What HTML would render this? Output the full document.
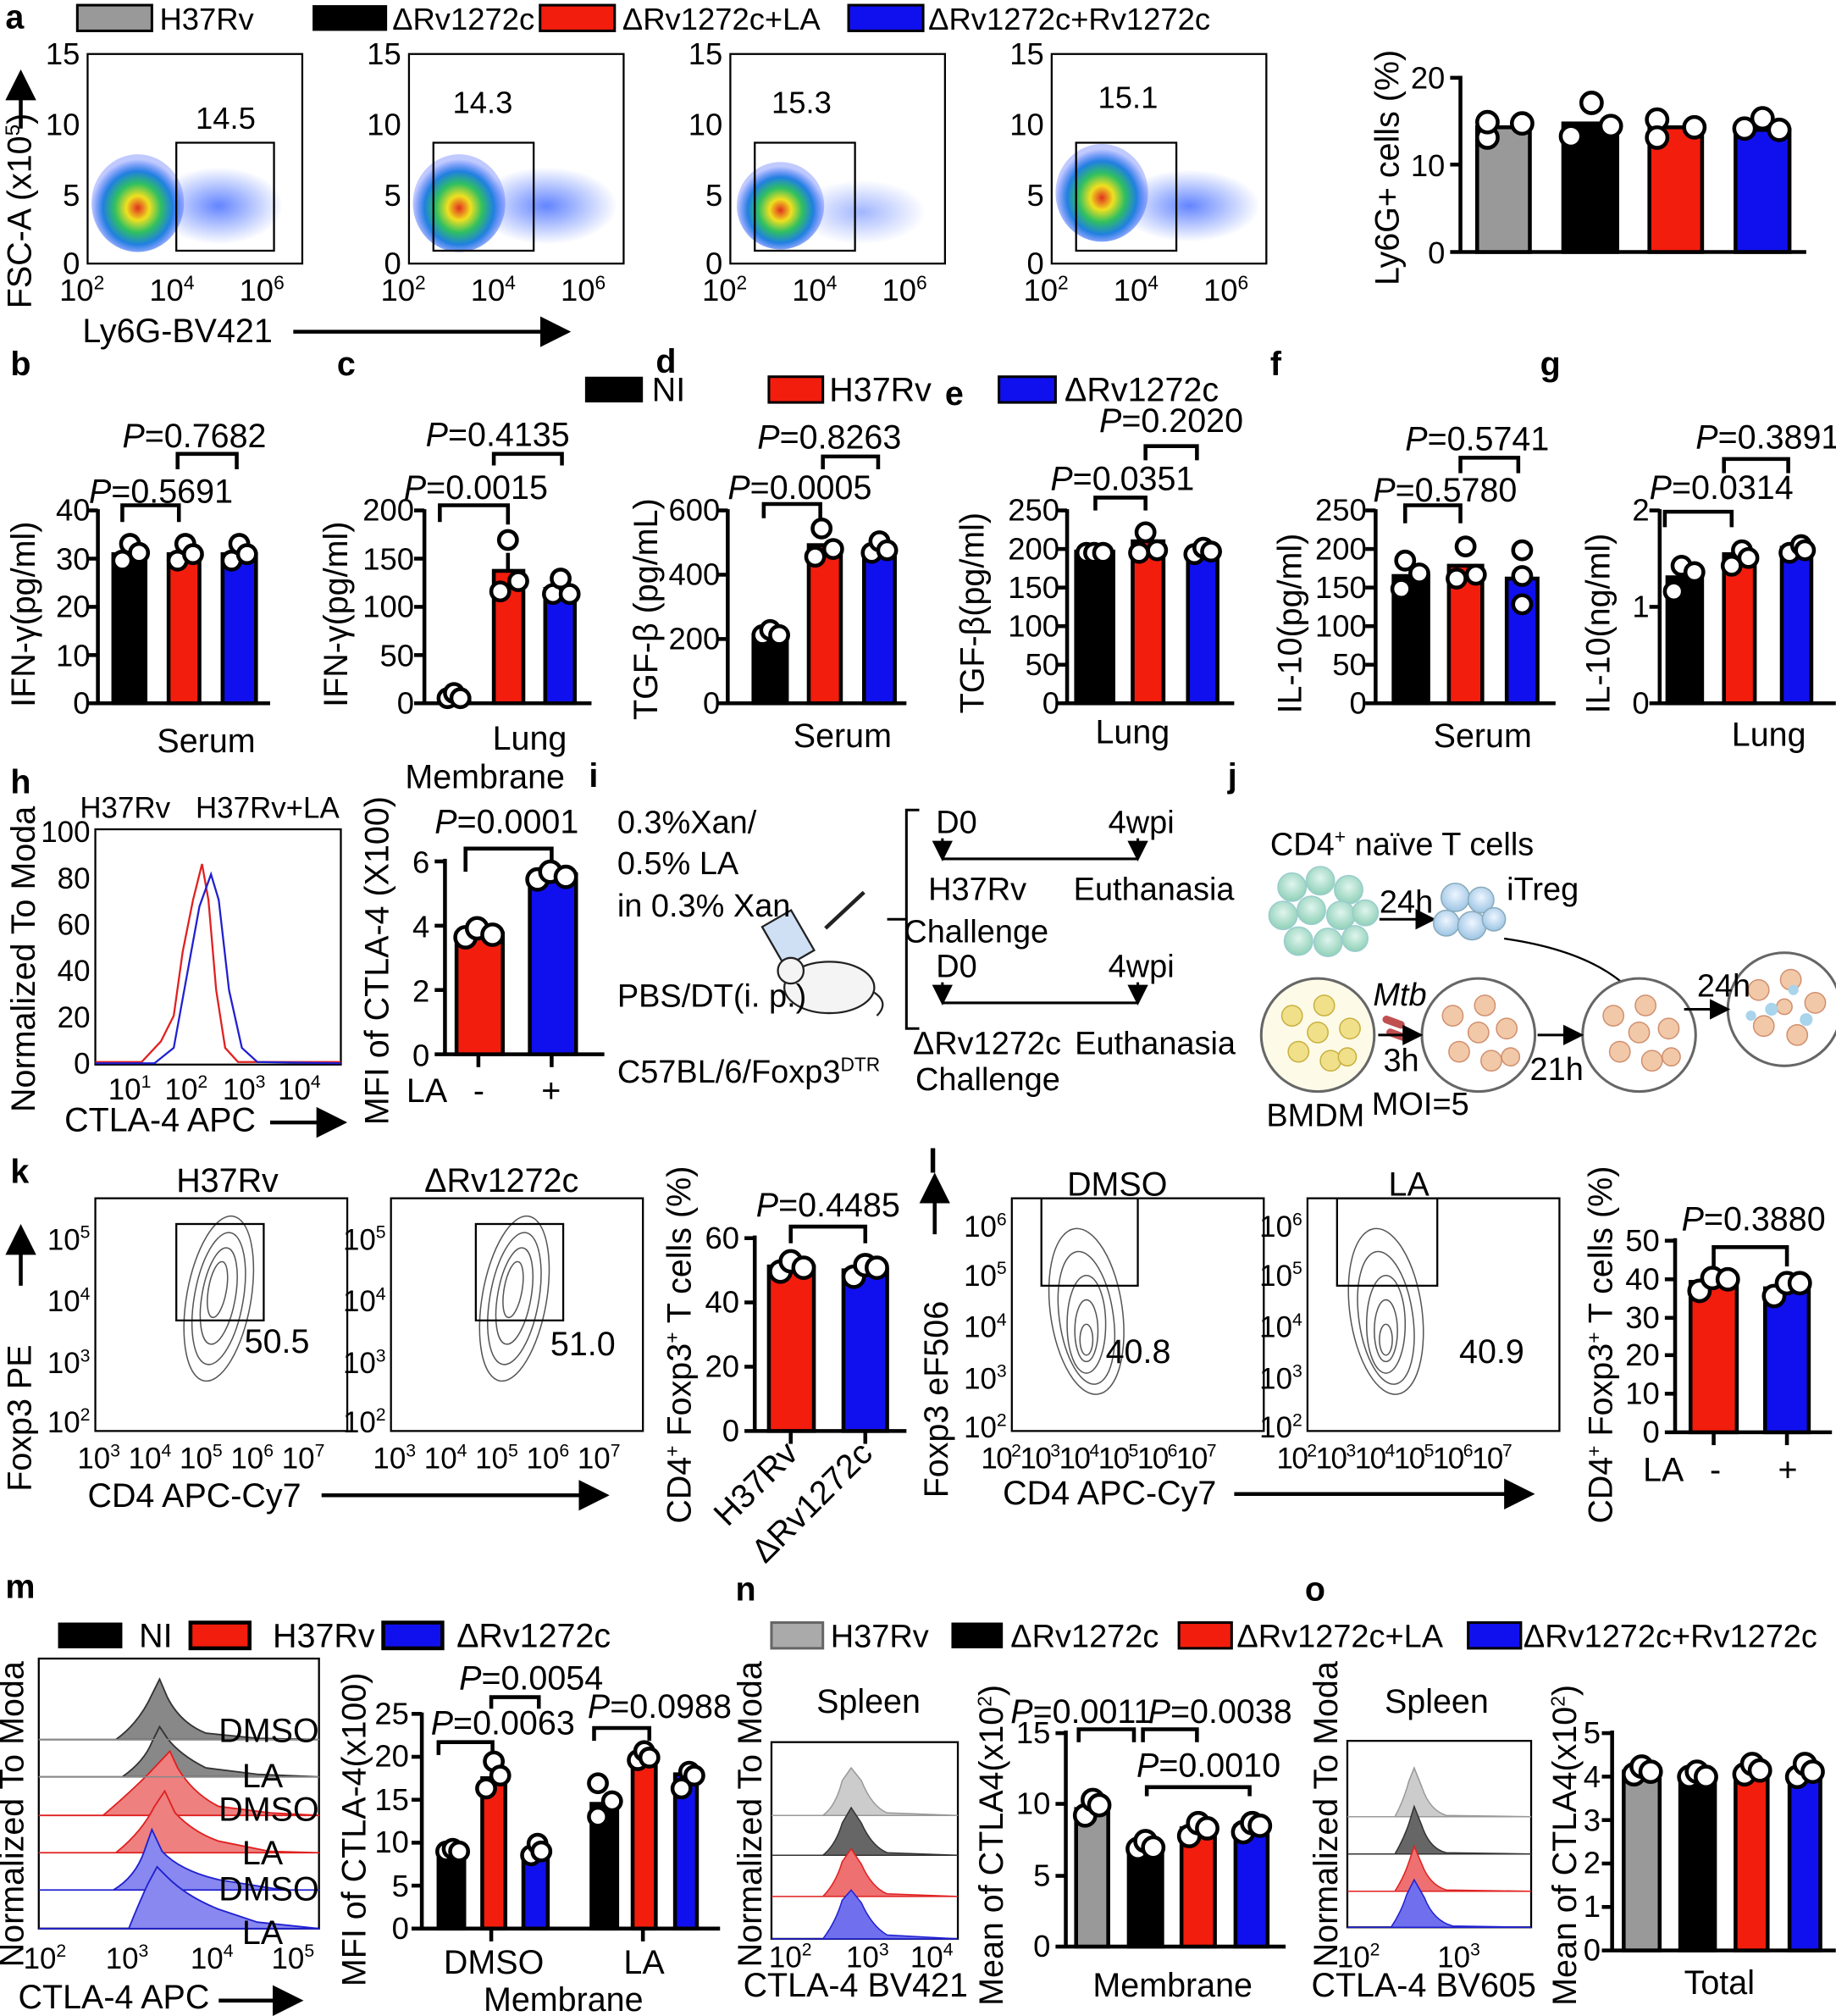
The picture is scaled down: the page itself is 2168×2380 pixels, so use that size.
<!DOCTYPE html>
<html><head><meta charset="utf-8"><style>
html,body{margin:0;padding:0;background:#fff}
svg{display:block}
text{font-family:"Liberation Sans",Arial,sans-serif;fill:#000}
</style></head><body>
<svg width="2168" height="2380" viewBox="0 0 1428 1568" xmlns="http://www.w3.org/2000/svg">
<defs>
<radialGradient id="dens" cx="50%" cy="55%" r="50%">
<stop offset="0" stop-color="#e03020"/><stop offset="0.25" stop-color="#f0e020"/><stop offset="0.5" stop-color="#30c060"/><stop offset="0.75" stop-color="#2080e0"/><stop offset="1" stop-color="#3050ff" stop-opacity="0.3"/>
</radialGradient>
<radialGradient id="haze" cx="50%" cy="50%" r="50%"><stop offset="0" stop-color="#2050ff" stop-opacity="0.7"/><stop offset="1" stop-color="#2050ff" stop-opacity="0"/></radialGradient>
<radialGradient id="grn" cx="50%" cy="40%" r="60%"><stop offset="0" stop-color="#e0f5ee"/><stop offset="1" stop-color="#8fd0b8"/></radialGradient>
<radialGradient id="blu" cx="50%" cy="40%" r="60%"><stop offset="0" stop-color="#eef6ff"/><stop offset="1" stop-color="#9cc4e4"/></radialGradient>
<marker id="ar" markerWidth="8" markerHeight="8" refX="6" refY="4" orient="auto"><path d="M0,0 L8,4 L0,8 z" fill="#000"/></marker>
</defs>
<g font-size="26">
<!-- ===== a ===== -->
<text x="4" y="22" font-weight="bold" font-size="26">a</text>
<g font-size="24">
<rect x="60" y="4" width="58" height="20" fill="#999" stroke="#000" stroke-width="2"/><text x="124" y="23">H37Rv</text>
<rect x="243" y="4" width="58" height="20" fill="#000"/><text x="305" y="23">ΔRv1272c</text>
<rect x="420" y="4" width="58" height="20" fill="#f21d0d" stroke="#000" stroke-width="2"/><text x="484" y="23">ΔRv1272c+LA</text>
<rect x="660" y="4" width="58" height="20" fill="#1010ee" stroke="#000" stroke-width="2"/><text x="722" y="23">ΔRv1272c+Rv1272c</text>
</g>

<g font-size="24">
<g>
<rect x="68" y="42" width="167" height="163" fill="none" stroke="#000" stroke-width="1.5"/>
<ellipse cx="170" cy="160" rx="50" ry="30" fill="url(#haze)"/>
<ellipse cx="107" cy="158" rx="36" ry="38" fill="url(#dens)"/>
<rect x="137" y="111" width="76" height="84" fill="none" stroke="#000" stroke-width="1.5"/>
<text x="152" y="100">14.5</text>
<text x="62" y="50" text-anchor="end">15</text><text x="62" y="105" text-anchor="end">10</text><text x="62" y="160" text-anchor="end">5</text><text x="62" y="213" text-anchor="end">0</text>
<text x="46" y="234">10<tspan font-size="15" dy="-9">2</tspan></text><text x="116" y="234">10<tspan font-size="15" dy="-9">4</tspan></text><text x="186" y="234">10<tspan font-size="15" dy="-9">6</tspan></text>
</g>
<g transform="translate(250,0)">
<rect x="68" y="42" width="167" height="163" fill="none" stroke="#000" stroke-width="1.5"/>
<ellipse cx="175" cy="160" rx="55" ry="30" fill="url(#haze)"/>
<ellipse cx="107" cy="158" rx="36" ry="38" fill="url(#dens)"/>
<rect x="87" y="111" width="78" height="84" fill="none" stroke="#000" stroke-width="1.5"/>
<text x="102" y="88">14.3</text>
<text x="62" y="50" text-anchor="end">15</text><text x="62" y="105" text-anchor="end">10</text><text x="62" y="160" text-anchor="end">5</text><text x="62" y="213" text-anchor="end">0</text>
<text x="46" y="234">10<tspan font-size="15" dy="-9">2</tspan></text><text x="116" y="234">10<tspan font-size="15" dy="-9">4</tspan></text><text x="186" y="234">10<tspan font-size="15" dy="-9">6</tspan></text>
</g>
<g transform="translate(500,0)">
<rect x="68" y="42" width="167" height="163" fill="none" stroke="#000" stroke-width="1.5"/>
<ellipse cx="170" cy="165" rx="50" ry="25" fill="url(#haze)" opacity="0.6"/>
<ellipse cx="107" cy="160" rx="34" ry="34" fill="url(#dens)"/>
<rect x="87" y="111" width="78" height="84" fill="none" stroke="#000" stroke-width="1.5"/>
<text x="100" y="88">15.3</text>
<text x="62" y="50" text-anchor="end">15</text><text x="62" y="105" text-anchor="end">10</text><text x="62" y="160" text-anchor="end">5</text><text x="62" y="213" text-anchor="end">0</text>
<text x="46" y="234">10<tspan font-size="15" dy="-9">2</tspan></text><text x="116" y="234">10<tspan font-size="15" dy="-9">4</tspan></text><text x="186" y="234">10<tspan font-size="15" dy="-9">6</tspan></text>
</g>
<g transform="translate(750,0)">
<rect x="68" y="42" width="167" height="163" fill="none" stroke="#000" stroke-width="1.5"/>
<ellipse cx="175" cy="160" rx="55" ry="28" fill="url(#haze)"/>
<ellipse cx="107" cy="150" rx="36" ry="38" fill="url(#dens)"/>
<rect x="87" y="111" width="78" height="84" fill="none" stroke="#000" stroke-width="1.5"/>
<text x="104" y="84">15.1</text>
<text x="62" y="50" text-anchor="end">15</text><text x="62" y="105" text-anchor="end">10</text><text x="62" y="160" text-anchor="end">5</text><text x="62" y="213" text-anchor="end">0</text>
<text x="46" y="234">10<tspan font-size="15" dy="-9">2</tspan></text><text x="116" y="234">10<tspan font-size="15" dy="-9">4</tspan></text><text x="186" y="234">10<tspan font-size="15" dy="-9">6</tspan></text>
</g>
</g>
<text transform="translate(24,240) rotate(-90)">FSC-A (x10<tspan font-size="16" dy="-9">5</tspan><tspan dy="9">)</tspan></text>
<line x1="16" y1="100" x2="16" y2="60" stroke="#000" stroke-width="3" marker-end="url(#ar)"/>
<text x="64" y="266">Ly6G-BV421</text>
<line x1="228" y1="258" x2="438" y2="258" stroke="#000" stroke-width="3" marker-end="url(#ar)"/>

<!-- a bars -->
<g stroke="#000" stroke-width="3">
<line x1="1136" y1="59" x2="1136" y2="196"/><line x1="1128" y1="196" x2="1405" y2="196"/>
<line x1="1128" y1="60.5" x2="1136" y2="60.5"/><line x1="1128" y1="128" x2="1136" y2="128"/>
<rect x="1149" y="99" width="41" height="97" fill="#999"/>
<rect x="1216" y="96" width="42" height="100" fill="#000"/>
<rect x="1283" y="99" width="41" height="97" fill="#f21d0d"/>
<rect x="1350" y="101" width="42" height="95" fill="#1010ee"/>
</g>
<g stroke="#000" stroke-width="3" fill="#fff">
<circle cx="1157" cy="107" r="8"/><circle cx="1157" cy="95" r="8"/><circle cx="1184" cy="96" r="8"/>
<circle cx="1222" cy="106" r="8"/><circle cx="1238" cy="80" r="8"/><circle cx="1253" cy="98" r="8"/>
<circle cx="1289" cy="93" r="8"/><circle cx="1289" cy="107" r="8"/><circle cx="1318" cy="99" r="8"/>
<circle cx="1357" cy="100" r="8"/><circle cx="1371" cy="92" r="8"/><circle cx="1384" cy="101" r="8"/>
</g>
<g font-size="24"><text x="1124" y="69" text-anchor="end">20</text><text x="1124" y="137" text-anchor="end">10</text><text x="1124" y="205" text-anchor="end">0</text></g>
<text transform="translate(1088,222) rotate(-90)">Ly6G+ cells (%)</text>

<!-- ===== row b-g ===== -->
<g font-weight="bold" font-size="26">
<text x="8" y="292">b</text><text x="262" y="292">c</text><text x="510" y="290">d</text><text x="735" y="315">e</text><text x="988" y="292">f</text><text x="1198" y="292">g</text>
</g>
<rect x="455" y="293" width="45" height="20" fill="#000"/><text x="507" y="312">NI</text>
<rect x="598" y="293" width="42" height="20" fill="#f21d0d" stroke="#000" stroke-width="2"/><text x="645" y="312">H37Rv</text>
<rect x="777" y="293" width="44" height="20" fill="#1010ee" stroke="#000" stroke-width="2"/><text x="828" y="312">ΔRv1272c</text>

<g stroke="#000" stroke-width="3">
<line x1="76" y1="396" x2="76" y2="547"/><line x1="68" y1="547" x2="210" y2="547"/>
<line x1="68" y1="397" x2="76" y2="397"/><line x1="68" y1="434.5" x2="76" y2="434.5"/><line x1="68" y1="472" x2="76" y2="472"/><line x1="68" y1="509.5" x2="76" y2="509.5"/>
<rect x="88" y="431" width="25" height="116" fill="#000"/><rect x="131" y="431" width="24" height="116" fill="#f21d0d"/><rect x="173" y="431" width="26" height="116" fill="#1010ee"/>
<path d="M95 406 V393 H139 V406" fill="none"/><path d="M138 365 V353 H184 V365" fill="none"/>
<line x1="330" y1="396" x2="330" y2="547"/><line x1="322" y1="547" x2="460" y2="547"/>
<line x1="322" y1="397" x2="330" y2="397"/><line x1="322" y1="434.5" x2="330" y2="434.5"/><line x1="322" y1="472" x2="330" y2="472"/><line x1="322" y1="509.5" x2="330" y2="509.5"/>
<rect x="342" y="543" width="23" height="4" fill="#000"/><rect x="384" y="444" width="23" height="103" fill="#f21d0d"/><rect x="424" y="458" width="23" height="89" fill="#1010ee"/>
<path d="M342 406 V393 H395 V408" fill="none"/><path d="M384 362 V353 H437 V362" fill="none"/>
<line x1="395" y1="430" x2="395" y2="444"/>
<line x1="566" y1="396" x2="566" y2="547"/><line x1="558" y1="547" x2="705" y2="547"/>
<line x1="558" y1="397" x2="566" y2="397"/><line x1="558" y1="447" x2="566" y2="447"/><line x1="558" y1="497" x2="566" y2="497"/>
<rect x="586" y="494" width="26" height="53" fill="#000"/><rect x="629" y="424" width="25" height="123" fill="#f21d0d"/><rect x="672" y="427" width="24" height="120" fill="#1010ee"/>
<path d="M594 403 V392 H638 V403" fill="none"/><path d="M640 365 V355 H683 V365" fill="none"/>
<line x1="830" y1="396" x2="830" y2="547"/><line x1="822" y1="547" x2="960" y2="547"/>
<line x1="822" y1="397" x2="830" y2="397"/><line x1="822" y1="427" x2="830" y2="427"/><line x1="822" y1="457" x2="830" y2="457"/><line x1="822" y1="487" x2="830" y2="487"/><line x1="822" y1="517" x2="830" y2="517"/>
<rect x="837" y="429" width="29" height="118" fill="#000"/><rect x="881" y="421" width="24" height="126" fill="#f21d0d"/><rect x="924" y="429" width="23" height="118" fill="#1010ee"/>
<path d="M852 397 V387 H891 V397" fill="none"/><path d="M891 358 V347 H931 V358" fill="none"/>
<line x1="1070" y1="396" x2="1070" y2="547"/><line x1="1062" y1="547" x2="1210" y2="547"/>
<line x1="1062" y1="397" x2="1070" y2="397"/><line x1="1062" y1="427" x2="1070" y2="427"/><line x1="1062" y1="457" x2="1070" y2="457"/><line x1="1062" y1="487" x2="1070" y2="487"/><line x1="1062" y1="517" x2="1070" y2="517"/>
<rect x="1084" y="448" width="27" height="99" fill="#000"/><rect x="1127" y="440" width="26" height="107" fill="#f21d0d"/><rect x="1172" y="450" width="24" height="97" fill="#1010ee"/>
<path d="M1093 407 V393 H1136 V407" fill="none"/><path d="M1136 368 V356 H1181 V368" fill="none"/>
<line x1="1291" y1="396" x2="1291" y2="547"/><line x1="1283" y1="547" x2="1428" y2="547"/>
<line x1="1283" y1="397" x2="1291" y2="397"/><line x1="1283" y1="472" x2="1291" y2="472"/>
<rect x="1297" y="449" width="27" height="98" fill="#000"/><rect x="1341" y="431" width="24" height="116" fill="#f21d0d"/><rect x="1386" y="426" width="23" height="121" fill="#1010ee"/>
<path d="M1295 410 V398 H1347 V410" fill="none"/><path d="M1341 368 V357 H1391 V368" fill="none"/>
</g>
<g stroke="#000" stroke-width="3" fill="#fff">
<circle cx="95" cy="436" r="7"/><circle cx="101" cy="423" r="7"/><circle cx="108" cy="430" r="7"/>
<circle cx="138" cy="436" r="7"/><circle cx="144" cy="423" r="7"/><circle cx="150" cy="431" r="7"/>
<circle cx="180" cy="436" r="7"/><circle cx="186" cy="423" r="7"/><circle cx="192" cy="431" r="7"/>
<circle cx="348" cy="543" r="7"/><circle cx="353" cy="539" r="7"/><circle cx="358" cy="543" r="7"/>
<circle cx="389" cy="460" r="7"/><circle cx="395" cy="420" r="7"/><circle cx="403" cy="452" r="7"/>
<circle cx="430" cy="462" r="7"/><circle cx="436" cy="450" r="7"/><circle cx="443" cy="462" r="7"/>
<circle cx="593" cy="494" r="7"/><circle cx="599" cy="490" r="7"/><circle cx="606" cy="494" r="7"/>
<circle cx="634" cy="433" r="7"/><circle cx="639" cy="411" r="7"/><circle cx="648" cy="427" r="7"/>
<circle cx="678" cy="430" r="7"/><circle cx="684" cy="421" r="7"/><circle cx="690" cy="428" r="7"/>
<circle cx="845" cy="430" r="7"/><circle cx="851" cy="430" r="7"/><circle cx="858" cy="430" r="7"/>
<circle cx="886" cy="430" r="7"/><circle cx="891" cy="414" r="7"/><circle cx="900" cy="428" r="7"/>
<circle cx="929" cy="431" r="7"/><circle cx="936" cy="426" r="7"/><circle cx="942" cy="429" r="7"/>
<circle cx="1090" cy="458" r="7"/><circle cx="1093" cy="436" r="7"/><circle cx="1104" cy="446" r="7"/>
<circle cx="1133" cy="450" r="7"/><circle cx="1140" cy="425" r="7"/><circle cx="1148" cy="447" r="7"/>
<circle cx="1184" cy="470" r="7"/><circle cx="1184" cy="428" r="7"/><circle cx="1184" cy="448" r="7"/>
<circle cx="1302" cy="460" r="7"/><circle cx="1308" cy="440" r="7"/><circle cx="1318" cy="445" r="7"/>
<circle cx="1347" cy="440" r="7"/><circle cx="1355" cy="428" r="7"/><circle cx="1360" cy="434" r="7"/>
<circle cx="1392" cy="430" r="7"/><circle cx="1401" cy="424" r="7"/><circle cx="1404" cy="428" r="7"/>
</g>
<g font-size="24">
<text x="70" y="405" text-anchor="end">40</text><text x="70" y="443" text-anchor="end">30</text><text x="70" y="480" text-anchor="end">20</text><text x="70" y="518" text-anchor="end">10</text><text x="70" y="555" text-anchor="end">0</text>
<text x="322" y="405" text-anchor="end">200</text><text x="322" y="443" text-anchor="end">150</text><text x="322" y="480" text-anchor="end">100</text><text x="322" y="518" text-anchor="end">50</text><text x="322" y="555" text-anchor="end">0</text>
<text x="560" y="405" text-anchor="end">600</text><text x="560" y="455" text-anchor="end">400</text><text x="560" y="505" text-anchor="end">200</text><text x="560" y="555" text-anchor="end">0</text>
<text x="824" y="405" text-anchor="end">250</text><text x="824" y="435" text-anchor="end">200</text><text x="824" y="465" text-anchor="end">150</text><text x="824" y="495" text-anchor="end">100</text><text x="824" y="525" text-anchor="end">50</text><text x="824" y="555" text-anchor="end">0</text>
<text x="1063" y="405" text-anchor="end">250</text><text x="1063" y="435" text-anchor="end">200</text><text x="1063" y="465" text-anchor="end">150</text><text x="1063" y="495" text-anchor="end">100</text><text x="1063" y="525" text-anchor="end">50</text><text x="1063" y="555" text-anchor="end">0</text>
<text x="1283" y="405" text-anchor="end">2</text><text x="1283" y="480" text-anchor="end">1</text><text x="1283" y="555" text-anchor="end">0</text>
</g>
<text x="69" y="391"><tspan font-style="italic">P</tspan>=0.5691</text>
<text x="95" y="348"><tspan font-style="italic">P</tspan>=0.7682</text>
<text x="314" y="388"><tspan font-style="italic">P</tspan>=0.0015</text>
<text x="331" y="347"><tspan font-style="italic">P</tspan>=0.4135</text>
<text x="566" y="388"><tspan font-style="italic">P</tspan>=0.0005</text>
<text x="589" y="349"><tspan font-style="italic">P</tspan>=0.8263</text>
<text x="817" y="381"><tspan font-style="italic">P</tspan>=0.0351</text>
<text x="855" y="336"><tspan font-style="italic">P</tspan>=0.2020</text>
<text x="1068" y="390"><tspan font-style="italic">P</tspan>=0.5780</text>
<text x="1093" y="350"><tspan font-style="italic">P</tspan>=0.5741</text>
<text x="1283" y="388"><tspan font-style="italic">P</tspan>=0.0314</text>
<text x="1319" y="349"><tspan font-style="italic">P</tspan>=0.3891</text>
<text transform="translate(27,550) rotate(-90)">IFN-γ(pg/ml)</text>
<text transform="translate(270,550) rotate(-90)">IFN-γ(pg/ml)</text>
<text transform="translate(511,560) rotate(-90)">TGF-β (pg/mL)</text>
<text transform="translate(765,555) rotate(-90)">TGF-β(pg/ml)</text>
<text transform="translate(1012,555) rotate(-90)">IL-10(pg/ml)</text>
<text transform="translate(1252,555) rotate(-90)">IL-10(ng/ml)</text>
<text x="122" y="585">Serum</text>
<text x="383" y="583">Lung</text><text x="315" y="613">Membrane</text>
<text x="617" y="581">Serum</text>
<text x="852" y="578">Lung</text>
<text x="1115" y="581">Serum</text>
<text x="1347" y="580">Lung</text>

<!-- ===== h ===== -->
<text x="8" y="617" font-weight="bold" font-size="26">h</text>
<text x="62" y="636" font-size="23">H37Rv</text><text x="152" y="636" font-size="23">H37Rv+LA</text>
<rect x="74" y="645" width="191" height="183" fill="none" stroke="#000" stroke-width="1.5"/>
<path d="M74 826 L110 826 L125 810 L135 790 L142 740 L150 700 L157 672 L162 700 L168 770 L175 815 L185 826 L265 826" fill="none" stroke="#e02020" stroke-width="1.5"/>
<path d="M74 827 L120 827 L135 815 L145 760 L155 705 L164 680 L170 700 L178 770 L188 815 L200 826 L265 827" fill="none" stroke="#2020d0" stroke-width="1.5"/>
<g font-size="23">
<text x="70" y="655" text-anchor="end">100</text><text x="70" y="691" text-anchor="end">80</text><text x="70" y="727" text-anchor="end">60</text><text x="70" y="763" text-anchor="end">40</text><text x="70" y="799" text-anchor="end">20</text><text x="70" y="835" text-anchor="end">0</text>
<text x="84" y="855">10<tspan font-size="14" dy="-9">1</tspan></text><text x="128" y="855">10<tspan font-size="14" dy="-9">2</tspan></text><text x="173" y="855">10<tspan font-size="14" dy="-9">3</tspan></text><text x="216" y="855">10<tspan font-size="14" dy="-9">4</tspan></text>
</g>
<text x="50" y="880">CTLA-4 APC</text>
<line x1="210" y1="873" x2="264" y2="873" stroke="#000" stroke-width="3" marker-end="url(#ar)"/>
<text transform="translate(27,865) rotate(-90)">Normalized To Moda</text>
<g stroke="#000" stroke-width="3">
<line x1="346" y1="668" x2="346" y2="820"/><line x1="338" y1="820" x2="470" y2="820"/>
<line x1="338" y1="670" x2="346" y2="670"/><line x1="338" y1="720" x2="346" y2="720"/><line x1="338" y1="770" x2="346" y2="770"/>
<line x1="372" y1="820" x2="372" y2="830"/><line x1="429" y1="820" x2="429" y2="830"/>
<rect x="355" y="726" width="36" height="94" fill="#f21d0d"/><rect x="412" y="680" width="36" height="140" fill="#1010ee"/>
<path d="M362 678 V660 H429 V680" fill="none"/>
</g>
<g stroke="#000" stroke-width="3" fill="#fff"><circle cx="362" cy="729" r="8"/><circle cx="371" cy="722" r="8"/><circle cx="383" cy="727" r="8"/>
<circle cx="418" cy="684" r="8"/><circle cx="428" cy="678" r="8"/><circle cx="440" cy="682" r="8"/></g>
<g font-size="24"><text x="334" y="679" text-anchor="end">6</text><text x="334" y="729" text-anchor="end">4</text><text x="334" y="779" text-anchor="end">2</text><text x="334" y="829" text-anchor="end">0</text></g>
<text x="338" y="648"><tspan font-style="italic">P</tspan>=0.0001</text>
<text x="316" y="857">LA</text><text x="368" y="857">-</text><text x="421" y="857">+</text>
<text transform="translate(302,875) rotate(-90)">MFI of CTLA-4 (X100)</text>

<!-- ===== i ===== -->
<text x="458" y="612" font-weight="bold" font-size="26">i</text>
<g fill="none" stroke="#222" stroke-width="1.5">
<rect x="600" y="712" width="26" height="36" fill="#cfe0f5" transform="rotate(-30 613 730)"/>
<path d="M642 722 L672 694" stroke-width="3"/>
<ellipse cx="645" cy="768" rx="35" ry="20" fill="#f4f4f4"/>
<circle cx="615" cy="755" r="10" fill="#f4f4f4"/>
<path d="M680 772 Q692 780 682 790"/>
</g>
<g font-size="25">
<text x="480" y="648">0.3%Xan/</text><text x="480" y="680">0.5% LA</text><text x="480" y="713">in 0.3% Xan</text>
<text x="480" y="783">PBS/DT(i. p.)</text>
<text x="480" y="842">C57BL/6/Foxp3<tspan font-size="15" dy="-9">DTR</tspan></text>
</g>
<path d="M715 630 H705 V800 H715" fill="none" stroke="#000" stroke-width="2"/>
<line x1="690" y1="715" x2="705" y2="715" stroke="#000" stroke-width="2"/>
<line x1="733" y1="668" x2="885" y2="668" stroke="#000" stroke-width="2"/>
<line x1="733" y1="652" x2="733" y2="666" stroke="#000" stroke-width="2" marker-end="url(#ar)"/>
<line x1="885" y1="652" x2="885" y2="666" stroke="#000" stroke-width="2" marker-end="url(#ar)"/>
<line x1="733" y1="780" x2="885" y2="780" stroke="#000" stroke-width="2"/>
<line x1="733" y1="764" x2="733" y2="778" stroke="#000" stroke-width="2" marker-end="url(#ar)"/>
<line x1="885" y1="764" x2="885" y2="778" stroke="#000" stroke-width="2" marker-end="url(#ar)"/>
<g font-size="25">
<text x="728" y="648">D0</text><text x="862" y="648">4wpi</text>
<text x="722" y="700">H37Rv</text><text x="835" y="700">Euthanasia</text><text x="703" y="733">Challenge</text>
<text x="728" y="760">D0</text><text x="862" y="760">4wpi</text>
<text x="710" y="820">ΔRv1272c</text><text x="836" y="820">Euthanasia</text><text x="712" y="848">Challenge</text>
</g>

<!-- ===== j ===== -->
<text x="955" y="612" font-weight="bold" font-size="26">j</text>
<g fill="url(#grn)" stroke="#9cc" stroke-width="1">
<circle cx="1005" cy="690" r="11"/><circle cx="1027" cy="685" r="11"/><circle cx="1049" cy="692" r="11"/><circle cx="998" cy="712" r="11"/><circle cx="1020" cy="708" r="11"/><circle cx="1043" cy="712" r="11"/><circle cx="1062" cy="710" r="10"/><circle cx="1010" cy="732" r="11"/><circle cx="1033" cy="733" r="11"/><circle cx="1054" cy="730" r="10"/>
</g>
<line x1="1073" y1="715" x2="1113" y2="715" stroke="#000" stroke-width="2" marker-end="url(#ar)"/>
<g fill="url(#blu)" stroke="#8ab" stroke-width="1">
<circle cx="1132" cy="698" r="11"/><circle cx="1152" cy="700" r="10"/><circle cx="1125" cy="718" r="10"/><circle cx="1145" cy="720" r="11"/><circle cx="1162" cy="715" r="9"/>
</g>
<path d="M1170 730 Q1240 740 1270 772" fill="none" stroke="#000" stroke-width="1.5" marker-end="url(#ar)"/>
<g stroke="#666" stroke-width="2" fill="#fff">
<circle cx="1025" cy="805" r="44" fill="#fdfbe8"/><circle cx="1150" cy="805" r="44"/><circle cx="1275" cy="805" r="44"/><circle cx="1388" cy="785" r="44"/>
</g>
<g fill="#f0e08a" stroke="#c9b040" stroke-width="1">
<circle cx="1005" cy="790" r="8"/><circle cx="1030" cy="782" r="8"/><circle cx="1050" cy="800" r="8"/><circle cx="1010" cy="818" r="8"/><circle cx="1035" cy="825" r="8"/><circle cx="1025" cy="803" r="8"/><circle cx="1048" cy="822" r="7"/>
</g>
<g fill="#f2c9a8" stroke="#d09070" stroke-width="1">
<circle cx="1130" cy="790" r="8"/><circle cx="1155" cy="782" r="8"/><circle cx="1172" cy="800" r="8"/><circle cx="1135" cy="818" r="8"/><circle cx="1160" cy="825" r="8"/><circle cx="1150" cy="803" r="8"/><circle cx="1175" cy="822" r="7"/>
<circle cx="1255" cy="790" r="8"/><circle cx="1280" cy="782" r="8"/><circle cx="1298" cy="800" r="8"/><circle cx="1260" cy="818" r="8"/><circle cx="1285" cy="825" r="8"/><circle cx="1275" cy="803" r="8"/><circle cx="1300" cy="822" r="7"/>
<circle cx="1368" cy="770" r="8"/><circle cx="1393" cy="762" r="8"/><circle cx="1412" cy="780" r="8"/><circle cx="1372" cy="798" r="8"/><circle cx="1398" cy="805" r="8"/><circle cx="1388" cy="783" r="6"/>
</g>
<g fill="#a8d4ec"><circle cx="1378" cy="785" r="5"/><circle cx="1405" cy="793" r="5"/><circle cx="1395" cy="770" r="4"/><circle cx="1362" cy="790" r="4"/></g>
<rect x="1075" y="792" width="18" height="6" rx="3" fill="#c05050" transform="rotate(20 1084 795)"/>
<rect x="1078" y="802" width="18" height="6" rx="3" fill="#c05050" transform="rotate(20 1087 805)"/>
<line x1="1072" y1="805" x2="1103" y2="805" stroke="#000" stroke-width="2" marker-end="url(#ar)"/>
<line x1="1196" y1="805" x2="1228" y2="805" stroke="#000" stroke-width="2" marker-end="url(#ar)"/>
<line x1="1310" y1="785" x2="1342" y2="785" stroke="#000" stroke-width="2" marker-end="url(#ar)"/>
<g font-size="25">
<text x="988" y="665">CD4<tspan font-size="15" dy="-9">+</tspan><tspan dy="9"> naïve T cells</tspan></text>
<text x="1073" y="710">24h</text><text x="1172" y="700">iTreg</text>
<text x="1068" y="782" font-style="italic">Mtb</text><text x="1076" y="833">3h</text><text x="1067" y="867">MOI=5</text>
<text x="985" y="876">BMDM</text><text x="1190" y="840">21h</text><text x="1320" y="775">24h</text>
</g>

<!-- ===== k ===== -->
<text x="8" y="920" font-weight="bold" font-size="26">k</text>
<text x="137" y="927">H37Rv</text><text x="330" y="927">ΔRv1272c</text>
<g fill="none" stroke="#555" stroke-width="1">
<rect x="74" y="932" width="196" height="181" stroke="#000" stroke-width="1.5"/>
<ellipse cx="170" cy="1010" rx="25" ry="65" transform="rotate(10 170 1010)"/><ellipse cx="170" cy="1010" rx="19" ry="52" transform="rotate(10 170 1010)"/><ellipse cx="170" cy="1008" rx="13" ry="38" transform="rotate(10 170 1008)"/><ellipse cx="169" cy="1003" rx="7" ry="22" transform="rotate(10 169 1003)"/>
<rect x="137" y="952" width="68" height="75" stroke="#000" stroke-width="1.5"/>
<rect x="304" y="932" width="196" height="181" stroke="#000" stroke-width="1.5"/>
<ellipse cx="400" cy="1010" rx="25" ry="65" transform="rotate(10 400 1010)"/><ellipse cx="400" cy="1010" rx="19" ry="52" transform="rotate(10 400 1010)"/><ellipse cx="400" cy="1008" rx="13" ry="38" transform="rotate(10 400 1008)"/><ellipse cx="399" cy="1003" rx="7" ry="22" transform="rotate(10 399 1003)"/>
<rect x="370" y="952" width="68" height="75" stroke="#000" stroke-width="1.5"/>
</g>
<text x="190" y="1052">50.5</text><text x="428" y="1054">51.0</text>
<g font-size="23">
<text x="70" y="972" text-anchor="end">10<tspan font-size="14" dy="-9">5</tspan></text><text x="70" y="1020" text-anchor="end">10<tspan font-size="14" dy="-9">4</tspan></text><text x="70" y="1068" text-anchor="end">10<tspan font-size="14" dy="-9">3</tspan></text><text x="70" y="1114" text-anchor="end">10<tspan font-size="14" dy="-9">2</tspan></text>
<text x="300" y="972" text-anchor="end">10<tspan font-size="14" dy="-9">5</tspan></text><text x="300" y="1020" text-anchor="end">10<tspan font-size="14" dy="-9">4</tspan></text><text x="300" y="1068" text-anchor="end">10<tspan font-size="14" dy="-9">3</tspan></text><text x="300" y="1114" text-anchor="end">10<tspan font-size="14" dy="-9">2</tspan></text>
<text x="60" y="1142">10<tspan font-size="14" dy="-9">3</tspan><tspan dy="9"> 10</tspan><tspan font-size="14" dy="-9">4</tspan><tspan dy="9"> 10</tspan><tspan font-size="14" dy="-9">5</tspan><tspan dy="9"> 10</tspan><tspan font-size="14" dy="-9">6</tspan><tspan dy="9"> 10</tspan><tspan font-size="14" dy="-9">7</tspan></text>
<text x="290" y="1142">10<tspan font-size="14" dy="-9">3</tspan><tspan dy="9"> 10</tspan><tspan font-size="14" dy="-9">4</tspan><tspan dy="9"> 10</tspan><tspan font-size="14" dy="-9">5</tspan><tspan dy="9"> 10</tspan><tspan font-size="14" dy="-9">6</tspan><tspan dy="9"> 10</tspan><tspan font-size="14" dy="-9">7</tspan></text>
</g>
<text transform="translate(24,1160) rotate(-90)">Foxp3 PE</text>
<line x1="16" y1="1000" x2="16" y2="958" stroke="#000" stroke-width="3" marker-end="url(#ar)"/>
<text x="68" y="1172">CD4 APC-Cy7</text>
<line x1="250" y1="1163" x2="468" y2="1163" stroke="#000" stroke-width="3" marker-end="url(#ar)"/>
<g stroke="#000" stroke-width="3">
<line x1="587" y1="961" x2="587" y2="1113"/><line x1="579" y1="1113" x2="705" y2="1113"/>
<line x1="579" y1="963" x2="587" y2="963"/><line x1="579" y1="1013" x2="587" y2="1013"/><line x1="579" y1="1063" x2="587" y2="1063"/>
<line x1="615" y1="1113" x2="615" y2="1123"/><line x1="673" y1="1113" x2="673" y2="1123"/>
<rect x="598" y="985" width="35" height="128" fill="#f21d0d"/><rect x="656" y="988" width="34" height="125" fill="#1010ee"/>
<path d="M615 967 V954 H673 V967" fill="none"/>
</g>
<g stroke="#000" stroke-width="3" fill="#fff"><circle cx="607" cy="989" r="8"/><circle cx="615" cy="981" r="8"/><circle cx="625" cy="986" r="8"/><circle cx="664" cy="993" r="8"/><circle cx="673" cy="984" r="8"/><circle cx="682" cy="986" r="8"/></g>
<g font-size="24"><text x="575" y="971" text-anchor="end">60</text><text x="575" y="1021" text-anchor="end">40</text><text x="575" y="1071" text-anchor="end">20</text><text x="575" y="1121" text-anchor="end">0</text></g>
<text x="588" y="946"><tspan font-style="italic">P</tspan>=0.4485</text>
<text transform="translate(622,1132) rotate(-45)" text-anchor="end">H37Rv</text>
<text transform="translate(680,1132) rotate(-45)" text-anchor="end">ΔRv1272c</text>
<text transform="translate(537,1185) rotate(-90)">CD4<tspan font-size="15" dy="-9">+</tspan><tspan dy="9"> Foxp3</tspan><tspan font-size="15" dy="-9">+</tspan><tspan dy="9"> T cells (%)</tspan></text>

<!-- ===== l ===== -->
<text x="722" y="912" font-weight="bold" font-size="26">l</text>
<text x="830" y="930">DMSO</text><text x="1080" y="930">LA</text>
<g fill="none" stroke="#555" stroke-width="1">
<rect x="787" y="932" width="196" height="181" stroke="#000" stroke-width="1.5"/>
<ellipse cx="845" cy="1020" rx="28" ry="65" transform="rotate(-8 845 1020)"/><ellipse cx="845" cy="1025" rx="21" ry="52" transform="rotate(-8 845 1025)"/><ellipse cx="845" cy="1030" rx="15" ry="38"/><ellipse cx="845" cy="1035" rx="9" ry="24"/><ellipse cx="845" cy="1042" rx="5" ry="12"/>
<rect x="810" y="932" width="75" height="68" stroke="#000" stroke-width="1.5"/>
<rect x="1017" y="932" width="196" height="181" stroke="#000" stroke-width="1.5"/>
<ellipse cx="1078" cy="1020" rx="28" ry="65" transform="rotate(-8 1078 1020)"/><ellipse cx="1078" cy="1025" rx="21" ry="52" transform="rotate(-8 1078 1025)"/><ellipse cx="1078" cy="1030" rx="15" ry="38"/><ellipse cx="1078" cy="1035" rx="9" ry="24"/><ellipse cx="1078" cy="1042" rx="5" ry="12"/>
<rect x="1040" y="932" width="78" height="68" stroke="#000" stroke-width="1.5"/>
</g>
<text x="860" y="1060">40.8</text><text x="1135" y="1060">40.9</text>
<g font-size="23">
<text x="783" y="962" text-anchor="end">10<tspan font-size="14" dy="-9">6</tspan></text><text x="783" y="1000" text-anchor="end">10<tspan font-size="14" dy="-9">5</tspan></text><text x="783" y="1040" text-anchor="end">10<tspan font-size="14" dy="-9">4</tspan></text><text x="783" y="1080" text-anchor="end">10<tspan font-size="14" dy="-9">3</tspan></text><text x="783" y="1118" text-anchor="end">10<tspan font-size="14" dy="-9">2</tspan></text>
<text x="1013" y="962" text-anchor="end">10<tspan font-size="14" dy="-9">6</tspan></text><text x="1013" y="1000" text-anchor="end">10<tspan font-size="14" dy="-9">5</tspan></text><text x="1013" y="1040" text-anchor="end">10<tspan font-size="14" dy="-9">4</tspan></text><text x="1013" y="1080" text-anchor="end">10<tspan font-size="14" dy="-9">3</tspan></text><text x="1013" y="1118" text-anchor="end">10<tspan font-size="14" dy="-9">2</tspan></text>
<text x="763" y="1142" letter-spacing="-1">10<tspan font-size="14" dy="-9">2</tspan><tspan dy="9">10</tspan><tspan font-size="14" dy="-9">3</tspan><tspan dy="9">10</tspan><tspan font-size="14" dy="-9">4</tspan><tspan dy="9">10</tspan><tspan font-size="14" dy="-9">5</tspan><tspan dy="9">10</tspan><tspan font-size="14" dy="-9">6</tspan><tspan dy="9">10</tspan><tspan font-size="14" dy="-9">7</tspan></text>
<text x="993" y="1142" letter-spacing="-1">10<tspan font-size="14" dy="-9">2</tspan><tspan dy="9">10</tspan><tspan font-size="14" dy="-9">3</tspan><tspan dy="9">10</tspan><tspan font-size="14" dy="-9">4</tspan><tspan dy="9">10</tspan><tspan font-size="14" dy="-9">5</tspan><tspan dy="9">10</tspan><tspan font-size="14" dy="-9">6</tspan><tspan dy="9">10</tspan><tspan font-size="14" dy="-9">7</tspan></text>
</g>
<text transform="translate(737,1165) rotate(-90)">Foxp3 eF506</text>
<line x1="727" y1="960" x2="727" y2="918" stroke="#000" stroke-width="3" marker-end="url(#ar)"/>
<text x="780" y="1170">CD4 APC-Cy7</text>
<line x1="960" y1="1162" x2="1188" y2="1162" stroke="#000" stroke-width="3" marker-end="url(#ar)"/>
<g stroke="#000" stroke-width="3">
<line x1="1303" y1="963" x2="1303" y2="1114"/><line x1="1295" y1="1114" x2="1425" y2="1114"/>
<line x1="1295" y1="965" x2="1303" y2="965"/><line x1="1295" y1="995" x2="1303" y2="995"/><line x1="1295" y1="1025" x2="1303" y2="1025"/><line x1="1295" y1="1054" x2="1303" y2="1054"/><line x1="1295" y1="1084" x2="1303" y2="1084"/>
<line x1="1333" y1="1114" x2="1333" y2="1124"/><line x1="1390" y1="1114" x2="1390" y2="1124"/>
<rect x="1315" y="997" width="36" height="117" fill="#f21d0d"/><rect x="1373" y="1002" width="34" height="112" fill="#1010ee"/>
<path d="M1333 985 V970 H1390 V985" fill="none"/>
</g>
<g stroke="#000" stroke-width="3" fill="#fff"><circle cx="1322" cy="1004" r="8"/><circle cx="1332" cy="994" r="8"/><circle cx="1344" cy="995" r="8"/><circle cx="1380" cy="1008" r="8"/><circle cx="1390" cy="998" r="8"/><circle cx="1400" cy="998" r="8"/></g>
<g font-size="24"><text x="1291" y="973" text-anchor="end">50</text><text x="1291" y="1003" text-anchor="end">40</text><text x="1291" y="1033" text-anchor="end">30</text><text x="1291" y="1062" text-anchor="end">20</text><text x="1291" y="1092" text-anchor="end">10</text><text x="1291" y="1122" text-anchor="end">0</text></g>
<text x="1308" y="957"><tspan font-style="italic">P</tspan>=0.3880</text>
<text x="1278" y="1152">LA</text><text x="1330" y="1152">-</text><text x="1383" y="1152">+</text>
<text transform="translate(1254,1185) rotate(-90)">CD4<tspan font-size="15" dy="-9">+</tspan><tspan dy="9"> Foxp3</tspan><tspan font-size="15" dy="-9">+</tspan><tspan dy="9"> T cells (%)</tspan></text>

<!-- ===== m ===== -->
<text x="4" y="1243" font-weight="bold" font-size="26">m</text>
<rect x="45" y="1262" width="50" height="20" fill="#000"/><text x="108" y="1281">NI</text>
<rect x="148" y="1262" width="46" height="20" fill="#f21d0d" stroke="#000" stroke-width="3"/><text x="212" y="1281">H37Rv</text>
<rect x="298" y="1262" width="46" height="20" fill="#1010ee" stroke="#000" stroke-width="3"/><text x="355" y="1281">ΔRv1272c</text>
<rect x="30" y="1290" width="218" height="210" fill="none" stroke="#000" stroke-width="1.5"/>
<g stroke-width="1.2">
<path d="M30 1353 L90 1353 Q108 1340 118 1318 L124 1306 L130 1320 Q140 1340 160 1348 L200 1352 L248 1353 Z" fill="#888" stroke="#333"/>
<path d="M30 1382 L95 1382 Q112 1370 118 1355 L124 1343 L130 1352 Q140 1365 160 1375 L200 1380 L248 1382 Z" fill="#888" stroke="#333"/>
<path d="M30 1412 L80 1412 Q100 1395 115 1380 L132 1362 L138 1375 Q150 1395 170 1405 L210 1410 L248 1412 Z" fill="#ee8080" stroke="#e02020"/>
<path d="M30 1441 L90 1441 Q110 1425 120 1405 L128 1393 L136 1410 Q150 1425 170 1432 L210 1440 L248 1441 Z" fill="#ee8080" stroke="#e02020"/>
<path d="M30 1470 L88 1470 Q105 1460 112 1440 L118 1423 L126 1440 Q140 1455 170 1462 L220 1470 L248 1470 Z" fill="#8888f0" stroke="#2020d0"/>
<path d="M30 1500 L100 1500 Q108 1480 115 1465 L122 1452 L130 1460 Q145 1475 170 1485 L200 1495 L248 1500 Z" fill="#8888f0" stroke="#2020d0"/>
</g>
<line x1="30" y1="1353" x2="248" y2="1353" stroke="#888" stroke-width="1"/><line x1="30" y1="1382" x2="248" y2="1382" stroke="#888" stroke-width="1"/>
<text x="248" y="1355" text-anchor="end">DMSO</text><text x="220" y="1390" text-anchor="end">LA</text>
<text x="248" y="1416" text-anchor="end">DMSO</text><text x="220" y="1450" text-anchor="end">LA</text>
<text x="248" y="1478" text-anchor="end">DMSO</text><text x="220" y="1512" text-anchor="end">LA</text>
<g font-size="23">
<text x="18" y="1531">10<tspan font-size="14" dy="-9">2</tspan></text><text x="82" y="1531">10<tspan font-size="14" dy="-9">3</tspan></text><text x="148" y="1531">10<tspan font-size="14" dy="-9">4</tspan></text><text x="211" y="1531">10<tspan font-size="14" dy="-9">5</tspan></text>
</g>
<text x="14" y="1562">CTLA-4 APC</text>
<line x1="170" y1="1556" x2="230" y2="1556" stroke="#000" stroke-width="3" marker-end="url(#ar)"/>
<text transform="translate(18,1530) rotate(-90)">Normalized To Moda</text>
<g stroke="#000" stroke-width="3">
<line x1="328" y1="1332" x2="328" y2="1500"/><line x1="320" y1="1500" x2="560" y2="1500"/>
<line x1="320" y1="1333" x2="328" y2="1333"/><line x1="320" y1="1366.4" x2="328" y2="1366.4"/><line x1="320" y1="1399.8" x2="328" y2="1399.8"/><line x1="320" y1="1433.2" x2="328" y2="1433.2"/><line x1="320" y1="1466.6" x2="328" y2="1466.6"/>
<line x1="382" y1="1500" x2="382" y2="1510"/><line x1="500" y1="1500" x2="500" y2="1510"/>
<rect x="341" y="1440" width="20" height="60" fill="#000"/><rect x="375" y="1383" width="18" height="117" fill="#f21d0d"/><rect x="407" y="1440" width="19" height="60" fill="#1010ee"/>
<rect x="460" y="1403" width="20" height="97" fill="#000"/><rect x="492" y="1366" width="18" height="134" fill="#f21d0d"/><rect x="525" y="1380" width="17" height="120" fill="#1010ee"/>
<path d="M341 1365 V1355 H383 V1365" fill="none"/><path d="M382 1329 V1320 H419 V1329" fill="none"/><path d="M462 1354 V1344 H505 V1354" fill="none"/>
</g>
<g stroke="#000" stroke-width="3" fill="#fff">
<circle cx="347" cy="1440" r="7"/><circle cx="352" cy="1438" r="7"/><circle cx="357" cy="1440" r="7"/>
<circle cx="378" cy="1391" r="7"/><circle cx="384" cy="1370" r="7"/><circle cx="389" cy="1381" r="7"/>
<circle cx="413" cy="1443" r="7"/><circle cx="418" cy="1434" r="7"/><circle cx="421" cy="1440" r="7"/>
<circle cx="465" cy="1387" r="7"/><circle cx="465" cy="1413" r="7"/><circle cx="476" cy="1401" r="7"/>
<circle cx="496" cy="1369" r="7"/><circle cx="501" cy="1362" r="7"/><circle cx="505" cy="1367" r="7"/>
<circle cx="530" cy="1391" r="7"/><circle cx="536" cy="1378" r="7"/><circle cx="540" cy="1381" r="7"/>
</g>
<g font-size="24"><text x="318" y="1341" text-anchor="end">25</text><text x="318" y="1374" text-anchor="end">20</text><text x="318" y="1408" text-anchor="end">15</text><text x="318" y="1441" text-anchor="end">10</text><text x="318" y="1475" text-anchor="end">5</text><text x="318" y="1508" text-anchor="end">0</text></g>
<text x="335" y="1349"><tspan font-style="italic">P</tspan>=0.0063</text>
<text x="357" y="1314"><tspan font-style="italic">P</tspan>=0.0054</text>
<text x="457" y="1336"><tspan font-style="italic">P</tspan>=0.0988</text>
<text x="345" y="1535">DMSO</text><text x="485" y="1535">LA</text><text x="376" y="1564">Membrane</text>
<text transform="translate(284,1545) rotate(-90)">MFI of CTLA-4(x100)</text>

<!-- ===== n ===== -->
<text x="572" y="1245" font-weight="bold" font-size="26">n</text>
<g font-size="25">
<rect x="600" y="1262" width="40" height="20" fill="#aaa" stroke="#666" stroke-width="2"/><text x="646" y="1281">H37Rv</text>
<rect x="740" y="1262" width="40" height="20" fill="#000"/><text x="786" y="1281">ΔRv1272c</text>
<rect x="917" y="1262" width="41" height="20" fill="#f21d0d" stroke="#000" stroke-width="2"/><text x="962" y="1281">ΔRv1272c+LA</text>
<rect x="1142" y="1262" width="41" height="20" fill="#1010ee" stroke="#000" stroke-width="2"/><text x="1185" y="1281">ΔRv1272c+Rv1272c</text>
</g>
<text x="635" y="1332">Spleen</text>
<rect x="600" y="1355" width="145" height="153" fill="none" stroke="#000" stroke-width="1.5"/>
<g stroke-width="1">
<path d="M600 1412 L640 1412 Q650 1405 655 1385 L662 1375 L670 1385 Q678 1405 690 1410 L745 1412 Z" fill="#ccc" stroke="#999"/>
<path d="M600 1443 L640 1443 Q650 1435 655 1418 L662 1406 L670 1418 Q678 1436 690 1441 L745 1443 Z" fill="#666" stroke="#333"/>
<path d="M600 1475 L640 1475 Q650 1465 655 1448 L662 1438 L670 1450 Q678 1468 690 1473 L745 1475 Z" fill="#ee7070" stroke="#e02020"/>
<path d="M600 1508 L640 1508 Q650 1495 655 1478 L662 1470 L670 1480 Q678 1498 690 1505 L745 1508 Z" fill="#7070ee" stroke="#2020d0"/>
</g>
<g font-size="23"><text x="598" y="1530">10<tspan font-size="14" dy="-9">2</tspan></text><text x="658" y="1530">10<tspan font-size="14" dy="-9">3</tspan></text><text x="708" y="1530">10<tspan font-size="14" dy="-9">4</tspan></text></g>
<text x="578" y="1553">CTLA-4 BV421</text>
<text transform="translate(592,1530) rotate(-90)">Normalized To Moda</text>
<g stroke="#000" stroke-width="3">
<line x1="829" y1="1346" x2="829" y2="1514"/><line x1="821" y1="1514" x2="1000" y2="1514"/>
<line x1="821" y1="1348" x2="829" y2="1348"/><line x1="821" y1="1403" x2="829" y2="1403"/><line x1="821" y1="1459" x2="829" y2="1459"/>
<rect x="837" y="1407" width="25" height="107" fill="#999"/><rect x="878" y="1436" width="26" height="78" fill="#000"/><rect x="919" y="1422" width="26" height="92" fill="#f21d0d"/><rect x="961" y="1420" width="25" height="94" fill="#1010ee"/>
<path d="M839 1355 V1345 H882 V1355" fill="none"/><path d="M889 1355 V1345 H931 V1355" fill="none"/><path d="M892 1397 V1390 H972 V1397" fill="none"/>
</g>
<g stroke="#000" stroke-width="3" fill="#fff">
<circle cx="844" cy="1412" r="8"/><circle cx="850" cy="1400" r="8"/><circle cx="855" cy="1404" r="8"/>
<circle cx="885" cy="1438" r="8"/><circle cx="891" cy="1432" r="8"/><circle cx="897" cy="1437" r="8"/>
<circle cx="925" cy="1428" r="8"/><circle cx="932" cy="1418" r="8"/><circle cx="939" cy="1422" r="8"/>
<circle cx="967" cy="1425" r="8"/><circle cx="974" cy="1418" r="8"/><circle cx="980" cy="1420" r="8"/>
</g>
<g font-size="24"><text x="817" y="1356" text-anchor="end">15</text><text x="817" y="1411" text-anchor="end">10</text><text x="817" y="1467" text-anchor="end">5</text><text x="817" y="1522" text-anchor="end">0</text></g>
<text x="786" y="1340"><tspan font-style="italic">P</tspan>=0.0011</text><text x="893" y="1340"><tspan font-style="italic">P</tspan>=0.0038</text>
<text x="884" y="1382"><tspan font-style="italic">P</tspan>=0.0010</text>
<text x="850" y="1553">Membrane</text>
<text transform="translate(780,1560) rotate(-90)">Mean of CTLA4(x10<tspan font-size="15" dy="-9">2</tspan><tspan dy="9">)</tspan></text>

<!-- ===== o ===== -->
<text x="1015" y="1245" font-weight="bold" font-size="26">o</text>
<text x="1077" y="1332">Spleen</text>
<rect x="1048" y="1354" width="143" height="145" fill="none" stroke="#000" stroke-width="1.5"/>
<g stroke-width="1">
<path d="M1048 1413 L1085 1413 Q1092 1400 1096 1385 L1100 1375 L1106 1390 Q1112 1408 1125 1412 L1191 1413 Z" fill="#ccc" stroke="#999"/>
<path d="M1048 1442 L1085 1442 Q1092 1430 1096 1418 L1100 1405 L1106 1420 Q1112 1438 1125 1441 L1191 1442 Z" fill="#666" stroke="#333"/>
<path d="M1048 1471 L1085 1471 Q1092 1460 1096 1448 L1100 1436 L1106 1450 Q1112 1466 1125 1470 L1191 1471 Z" fill="#ee7070" stroke="#e02020"/>
<path d="M1048 1499 L1082 1499 Q1090 1487 1094 1474 L1100 1462 L1108 1476 Q1115 1494 1130 1498 L1191 1499 Z" fill="#7070ee" stroke="#2020d0"/>
</g>
<g font-size="23"><text x="1040" y="1530">10<tspan font-size="14" dy="-9">2</tspan></text><text x="1118" y="1530">10<tspan font-size="14" dy="-9">3</tspan></text></g>
<text x="1020" y="1553">CTLA-4 BV605</text>
<text transform="translate(1040,1530) rotate(-90)">Normalized To Moda</text>
<g stroke="#000" stroke-width="3">
<line x1="1254" y1="1346" x2="1254" y2="1517"/><line x1="1246" y1="1517" x2="1428" y2="1517"/>
<line x1="1246" y1="1348" x2="1254" y2="1348"/><line x1="1246" y1="1381.8" x2="1254" y2="1381.8"/><line x1="1246" y1="1415.6" x2="1254" y2="1415.6"/><line x1="1246" y1="1449.4" x2="1254" y2="1449.4"/><line x1="1246" y1="1483.2" x2="1254" y2="1483.2"/>
<rect x="1263" y="1378" width="28" height="139" fill="#999"/><rect x="1307" y="1380" width="27" height="137" fill="#000"/><rect x="1350" y="1378" width="25" height="139" fill="#f21d0d"/><rect x="1392" y="1378" width="24" height="139" fill="#1010ee"/>
</g>
<g stroke="#000" stroke-width="3" fill="#fff">
<circle cx="1271" cy="1380" r="8"/><circle cx="1277" cy="1374" r="8"/><circle cx="1284" cy="1378" r="8"/>
<circle cx="1314" cy="1382" r="8"/><circle cx="1320" cy="1378" r="8"/><circle cx="1327" cy="1382" r="8"/>
<circle cx="1357" cy="1380" r="8"/><circle cx="1363" cy="1372" r="8"/><circle cx="1369" cy="1377" r="8"/>
<circle cx="1398" cy="1382" r="8"/><circle cx="1404" cy="1372" r="8"/><circle cx="1410" cy="1378" r="8"/>
</g>
<g font-size="24"><text x="1245" y="1356" text-anchor="end">5</text><text x="1245" y="1390" text-anchor="end">4</text><text x="1245" y="1424" text-anchor="end">3</text><text x="1245" y="1457" text-anchor="end">2</text><text x="1245" y="1491" text-anchor="end">1</text><text x="1245" y="1525" text-anchor="end">0</text></g>
<text x="1310" y="1551">Total</text>
<text transform="translate(1226,1560) rotate(-90)">Mean of CTLA4(x10<tspan font-size="15" dy="-9">2</tspan><tspan dy="9">)</tspan></text>
</g>
</svg>
</body></html>
